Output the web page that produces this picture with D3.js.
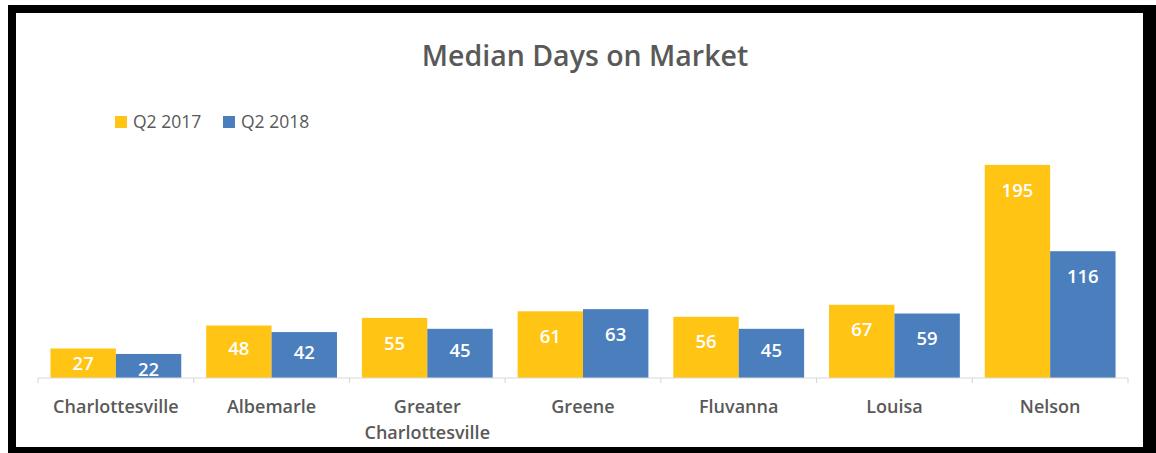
<!DOCTYPE html>
<html>
<head>
<meta charset="utf-8">
<script src="https://cdn.jsdelivr.net/npm/d3@7"></script>
<style>
  html, body { margin: 0; padding: 0; background: #ffffff; }
  svg { display: block; }
</style>
</head>
<body>
<svg id="chart" width="1156" height="453"></svg>
<script>
const categories = ["Charlottesville", "Albemarle", "Greater Charlottesville", "Greene", "Fluvanna", "Louisa", "Nelson"];
const seriesNames = ["Q2 2017", "Q2 2018"];
const q2_2017 = [27, 48, 55, 61, 56, 67, 195];
const q2_2018 = [22, 42, 45, 63, 45, 59, 116];
const colors = ["#FFC414", "#4A7EBD"];

const svg = d3.select("#chart");
const W = 1156, H = 453;
const textGray = "#595959";
const font = "'Open Sans', Lato, sans-serif";

// frame
svg.append("rect").attr("x", 8).attr("y", 5).attr("width", W - 8).attr("height", H - 5).attr("fill", "#000");
svg.append("rect").attr("x", 16).attr("y", 13).attr("width", 1127).attr("height", 434).attr("fill", "#fff");

const plot = { left: 38, right: 1128, bottom: 378 };

const x0 = d3.scaleBand().domain(categories).range([plot.left, plot.right]).paddingInner(0.16).paddingOuter(0.08);
const x1 = d3.scaleBand().domain(seriesNames).range([0, x0.bandwidth()]);
const y = d3.scaleLinear().domain([0, 200]).range([plot.bottom, plot.bottom - 218.6]);

const rows = categories.map((c, i) => ({ cat: c, vals: [q2_2017[i], q2_2018[i]] }));

// title
svg.append("text").attr("x", 585).attr("y", 66).attr("text-anchor", "middle")
  .attr("font-family", font).attr("font-weight", 600).attr("font-size", 28.5)
  .attr("fill", textGray).text("Median Days on Market");

// legend
const legendX = [115, 223];
seriesNames.forEach((s, i) => {
  const g = svg.append("g").attr("transform", `translate(${legendX[i]},116)`);
  g.append("rect").attr("width", 12).attr("height", 12).attr("fill", colors[i]);
  g.append("text").attr("x", 18).attr("y", 12).attr("font-family", font).attr("font-size", 17.5)
    .attr("fill", textGray).text(s);
});

// bars
const groups = svg.append("g").selectAll("g").data(rows).join("g")
  .attr("transform", d => `translate(${x0(d.cat)},0)`);

groups.selectAll("rect").data(d => d.vals.map((v, i) => ({ v, s: seriesNames[i], i })))
  .join("rect")
  .attr("x", d => x1(d.s))
  .attr("y", d => y(d.v))
  .attr("width", x1.bandwidth())
  .attr("height", d => y(0) - y(d.v))
  .attr("fill", d => colors[d.i]);

groups.selectAll("text.val").data(d => d.vals.map((v, i) => ({ v, s: seriesNames[i], i })))
  .join("text").attr("class", "val")
  .attr("x", d => x1(d.s) + x1.bandwidth() / 2)
  .attr("y", d => {
    const h = y(0) - y(d.v);
    return y(d.v) + Math.min(25, Math.max(h / 2 - 3, 15));
  })
  .attr("dy", "0.36em")
  .attr("text-anchor", "middle")
  .attr("font-family", font).attr("font-size", 18.5).attr("font-weight", 600)
  .attr("fill", "#ffffff")
  .text(d => d.v);

// axis
const axisG = svg.append("g").attr("transform", `translate(0,${plot.bottom})`);
axisG.append("line").attr("x1", plot.left).attr("x2", plot.right).attr("y1", 0).attr("y2", 0)
  .attr("stroke", "#d9d9d9").attr("stroke-width", 1.2);
const tickXs = categories.map(c => x0(c) - x0.step() * x0.paddingInner() / 2);
tickXs[0] = plot.left;
tickXs.push(plot.right);
axisG.selectAll("line.tick").data(tickXs).join("line").attr("class", "tick")
  .attr("x1", d => d).attr("x2", d => d).attr("y1", 0).attr("y2", 5)
  .attr("stroke", "#d9d9d9").attr("stroke-width", 1.2);

// category labels
const labelLines = { "Greater Charlottesville": ["Greater", "Charlottesville"] };
const catText = svg.append("g").selectAll("text").data(categories).join("text")
  .attr("x", d => x0(d) + x0.bandwidth() / 2)
  .attr("y", 413)
  .attr("text-anchor", "middle")
  .attr("font-family", font).attr("font-weight", 600).attr("font-size", 18)
  .attr("fill", textGray);
catText.each(function (d) {
  const lines = labelLines[d] || [d];
  d3.select(this).selectAll("tspan").data(lines).join("tspan")
    .attr("x", x0(d) + x0.bandwidth() / 2)
    .attr("dy", (l, i) => i === 0 ? 0 : 26)
    .text(l => l);
});
</script>
</body>
</html>
